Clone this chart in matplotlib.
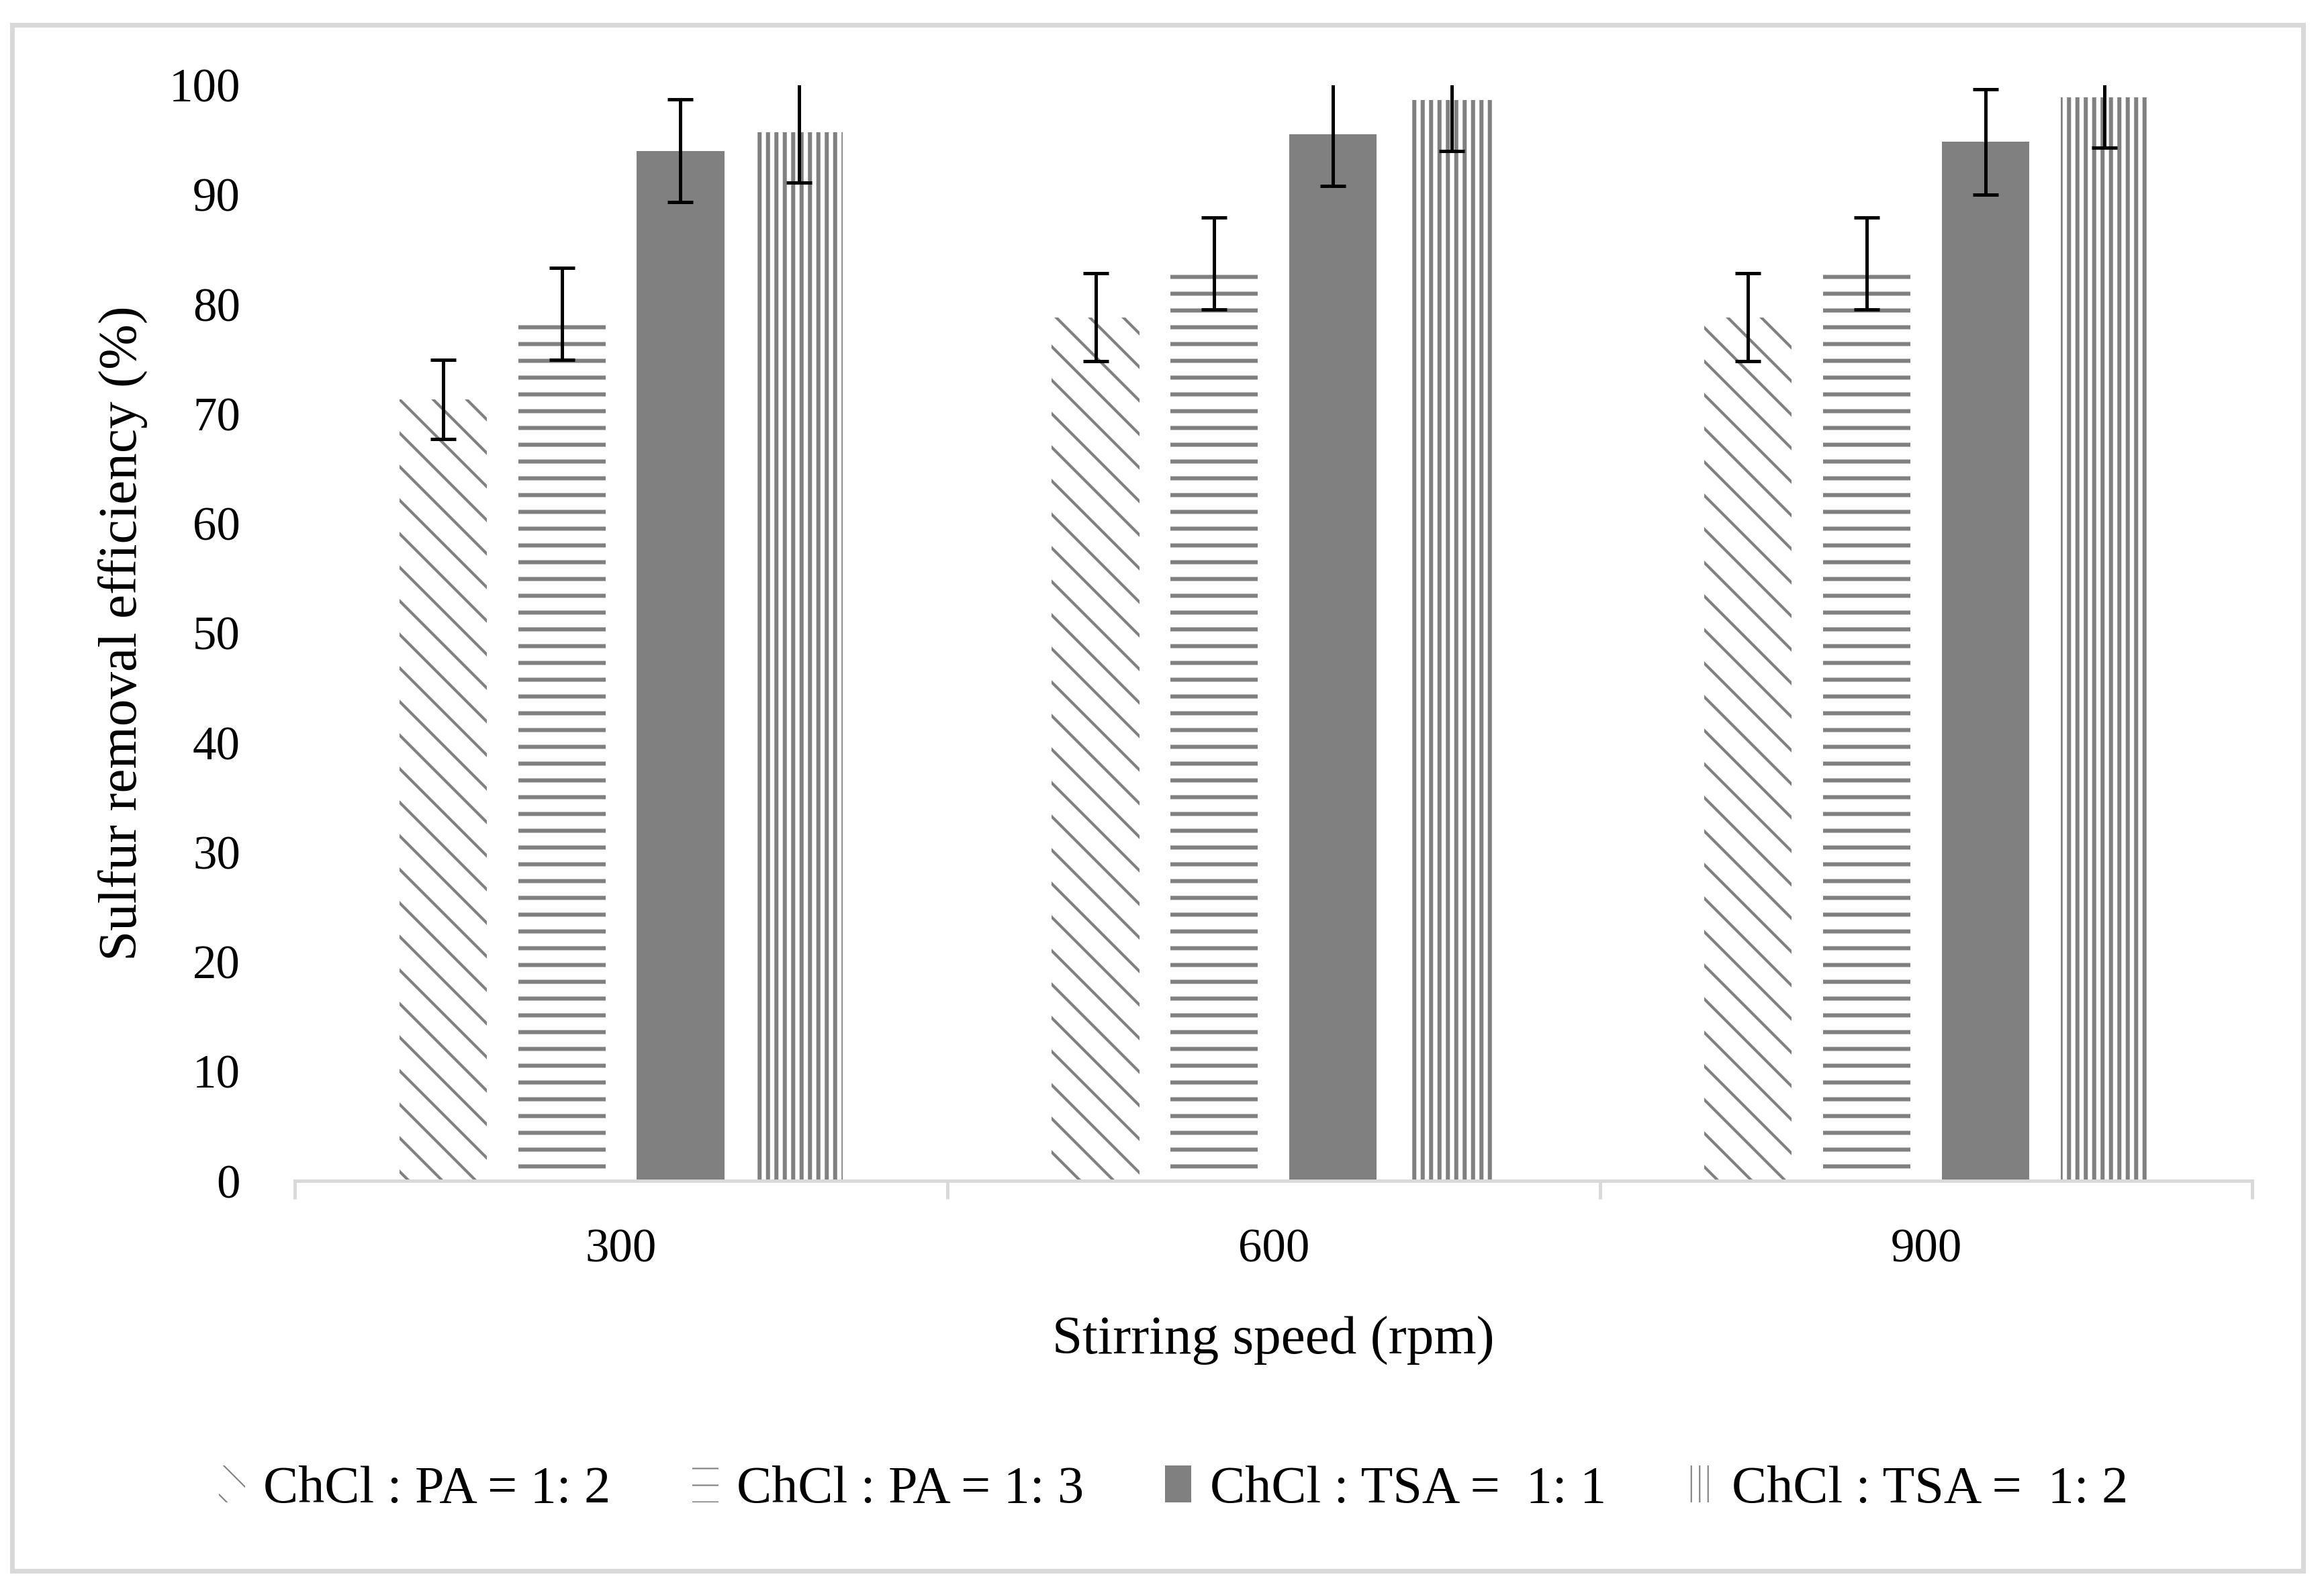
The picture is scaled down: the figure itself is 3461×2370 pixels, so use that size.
import numpy as np
import matplotlib
matplotlib.use("Agg")
import matplotlib.pyplot as plt
from matplotlib.patches import Rectangle

# datos
velocidades = ["300", "600", "900"]
series = ["ChCl : PA = 1: 2", "ChCl : PA = 1: 3", "ChCl : TSA =  1: 1", "ChCl : TSA =  1: 2"]
pa_12 = [71.3, 78.8, 78.8]
pa_12_err = [3.6, 4.0, 4.0]
pa_13 = [79.1, 83.7, 83.7]
pa_13_err = [4.2, 4.2, 4.2]
tsa_11 = [94.0, 95.5, 94.8]
tsa_11_err = [4.7, 4.7, 4.8]
tsa_12 = [95.7, 98.6, 98.9]
tsa_12_err = [4.6, 4.6, 4.6]

valores = [pa_12, pa_13, tsa_11, tsa_12]
errores = [pa_12_err, pa_13_err, tsa_11_err, tsa_12_err]
tramas = ["\\", "-", "", "||"]
rellenos = ["white", "white", "#808080", "white"]
grosor_trama = [2.0, 2.9, 2.9, 2.9]

plt.rcParams['font.family'] = ['Liberation Serif', 'DejaVu Serif']
plt.rcParams['hatch.color'] = '#808080'

fig = plt.figure(figsize=(3461 / 150, 2370 / 150), dpi=150)
ax = fig.add_axes([0.1269, 0.2578, 0.9692 - 0.1269, 0.9466 - 0.2578])

x = np.arange(len(velocidades))
paso = 0.182
ancho = 0.134

for i in range(len(series)):
    pos = x + (i - 1.5) * paso
    with plt.rc_context({'hatch.linewidth': grosor_trama[i]}):
        ax.bar(pos, valores[i], ancho, color=rellenos[i], edgecolor='#808080',
               linewidth=0, hatch=tramas[i], label=series[i], zorder=2)
    ax.errorbar(pos, valores[i], yerr=errores[i], fmt='none', ecolor='black',
                elinewidth=2.4, capsize=9, capthick=2.4, zorder=3)

ax.set_xlim(-0.5, 2.5)
ax.set_ylim(0, 100)
ax.set_yticks(np.arange(0, 101, 10))
ax.set_xticks(x)
ax.set_xticklabels(velocidades)
ax.set_xticks([-0.5, 0.5, 1.5, 2.5], minor=True)

ax.tick_params(axis='y', length=0, pad=39, labelsize=34)
ax.tick_params(axis='x', which='major', length=0, pad=34, labelsize=34)
ax.tick_params(axis='x', which='minor', length=13, width=2.4, color='#d9d9d9')

for lado in ['top', 'right', 'left']:
    ax.spines[lado].set_visible(False)
ax.spines['bottom'].set_color('#d9d9d9')
ax.spines['bottom'].set_linewidth(2.4)

ax.set_xlabel('Stirring speed (rpm)', fontsize=39, va='center')
ax.set_ylabel('Sulfur removal efficiency (%)', fontsize=39, va='center')
ax.xaxis.set_label_coords(0.5, -0.1458)
ax.yaxis.set_label_coords(-0.0881, 0.5)

fig.legend(loc='center', bbox_to_anchor=(0.505, 0.0637), ncol=4, frameon=False,
           fontsize=37.5, handlelength=0.5, handleheight=0.7, handletextpad=0.35,
           columnspacing=1.55)

# marco gris alrededor de la figura
fig.patches.append(Rectangle((0.0052, 0.0127), 0.9858, 0.9717, transform=fig.transFigure,
                             fill=False, edgecolor='#d9d9d9', linewidth=3.4))

fig.savefig('out.png', dpi=150, facecolor='white')
